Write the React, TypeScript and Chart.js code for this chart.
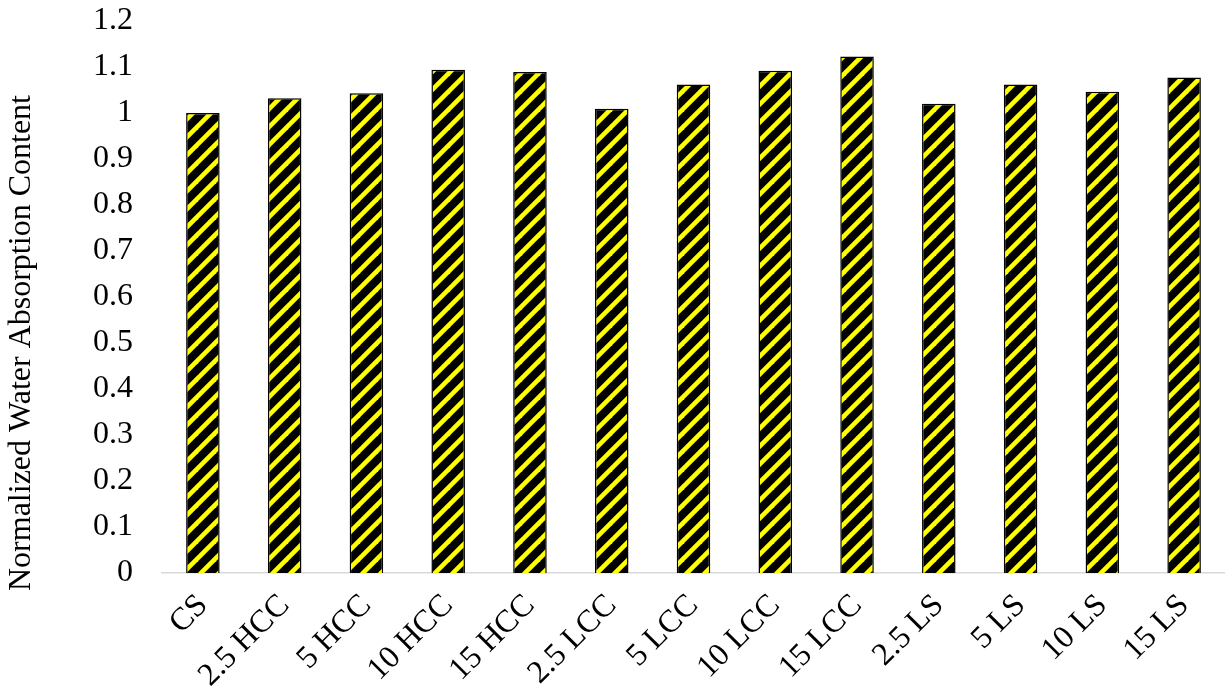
import React, { useEffect, useRef } from "react";
import { Chart, registerables } from "chart.js";

Chart.register(...registerables);

const categories = [
  "CS", "2.5 HCC", "5 HCC", "10 HCC", "15 HCC",
  "2.5 LCC", "5 LCC", "10 LCC", "15 LCC",
  "2.5 LS", "5 LS", "10 LS", "15 LS",
];
const absorption = [
  1.0, 1.032, 1.043, 1.094, 1.089,
  1.009, 1.062, 1.092, 1.123,
  1.02, 1.062, 1.046, 1.077,
];
const yMin = 0;
const yMax = 1.2;
const yStep = 0.1;
const yTitle = "Normalized Water Absorption Content";

const FONT = "'Liberation Serif', 'Times New Roman', serif";

function makeStripePattern(): CanvasPattern | string {
  const p = 18;
  const c = document.createElement("canvas");
  c.width = p;
  c.height = p;
  const g = c.getContext("2d");
  if (!g) return "#000";
  g.fillStyle = "#000000";
  g.fillRect(0, 0, p, p);
  g.strokeStyle = "#FFFF00";
  g.lineWidth = 4.6;
  for (let k = -1; k <= 1; k++) {
    g.beginPath();
    g.moveTo(k * p - 2, p + 2);
    g.lineTo(k * p + p + 2, -2);
    g.stroke();
  }
  const pat = g.createPattern(c, "repeat");
  return pat || "#000";
}

// Y-axis title drawn as real canvas text, offset below the axis centre as in the reference
const yTitlePlugin = {
  id: "yTitlePlugin",
  afterDraw(chart: any) {
    const ctx = chart.ctx;
    const area = chart.chartArea;
    ctx.save();
    ctx.translate(22, area.top + (area.bottom - area.top) / 2 + 46);
    ctx.rotate(-Math.PI / 2);
    ctx.font = `32px ${FONT}`;
    ctx.fillStyle = "#000";
    ctx.textAlign = "center";
    ctx.textBaseline = "middle";
    ctx.fillText(yTitle, 0, 0);
    ctx.restore();
  },
};

export default function App() {
  const ref = useRef<HTMLCanvasElement | null>(null);

  useEffect(() => {
    document.body.style.margin = "0";
    const canvas = ref.current;
    if (!canvas) return;
    const pattern = makeStripePattern();
    const chart = new Chart(canvas, {
      type: "bar",
      data: {
        labels: categories,
        datasets: [
          {
            data: absorption,
            backgroundColor: pattern as any,
            borderColor: "#000000",
            borderWidth: 1.5,
            barPercentage: 0.41,
            categoryPercentage: 1,
          },
        ],
      },
      plugins: [yTitlePlugin],
      options: {
        animation: false,
        responsive: false,
        devicePixelRatio: 1,
        layout: { padding: { left: 0, right: 0, top: 21, bottom: 0 } },
        plugins: {
          legend: { display: false },
          tooltip: { enabled: false },
        },
        scales: {
          x: {
            grid: { display: false, drawTicks: false },
            border: { display: true, color: "#d9d9d9", width: 1.5 },
            ticks: {
              color: "#000",
              font: { family: FONT, size: 32 },
              minRotation: 45,
              maxRotation: 45,
              padding: 14,
              autoSkip: false,
            },
            afterFit: (s: any) => {
              s.height = 116;
              s.paddingLeft = 0;
              s.paddingRight = 0;
            },
          },
          y: {
            min: yMin,
            max: yMax,
            grid: { display: false, drawTicks: false },
            border: { display: false },
            ticks: {
              stepSize: yStep,
              color: "#000",
              font: { family: FONT, size: 32 },
              padding: 29,
              callback: (v: any) => String(Math.round(Number(v) * 10) / 10),
            },
            title: { display: false, text: yTitle },
            afterFit: (s: any) => {
              s.width = 162;
              s.paddingTop = 0;
              s.paddingBottom = 0;
            },
          },
        },
      },
    });
    return () => chart.destroy();
  }, []);

  return (
    <div style={{ width: 1225, height: 689 }}>
      <canvas ref={ref} width={1225} height={689} />
    </div>
  );
}
